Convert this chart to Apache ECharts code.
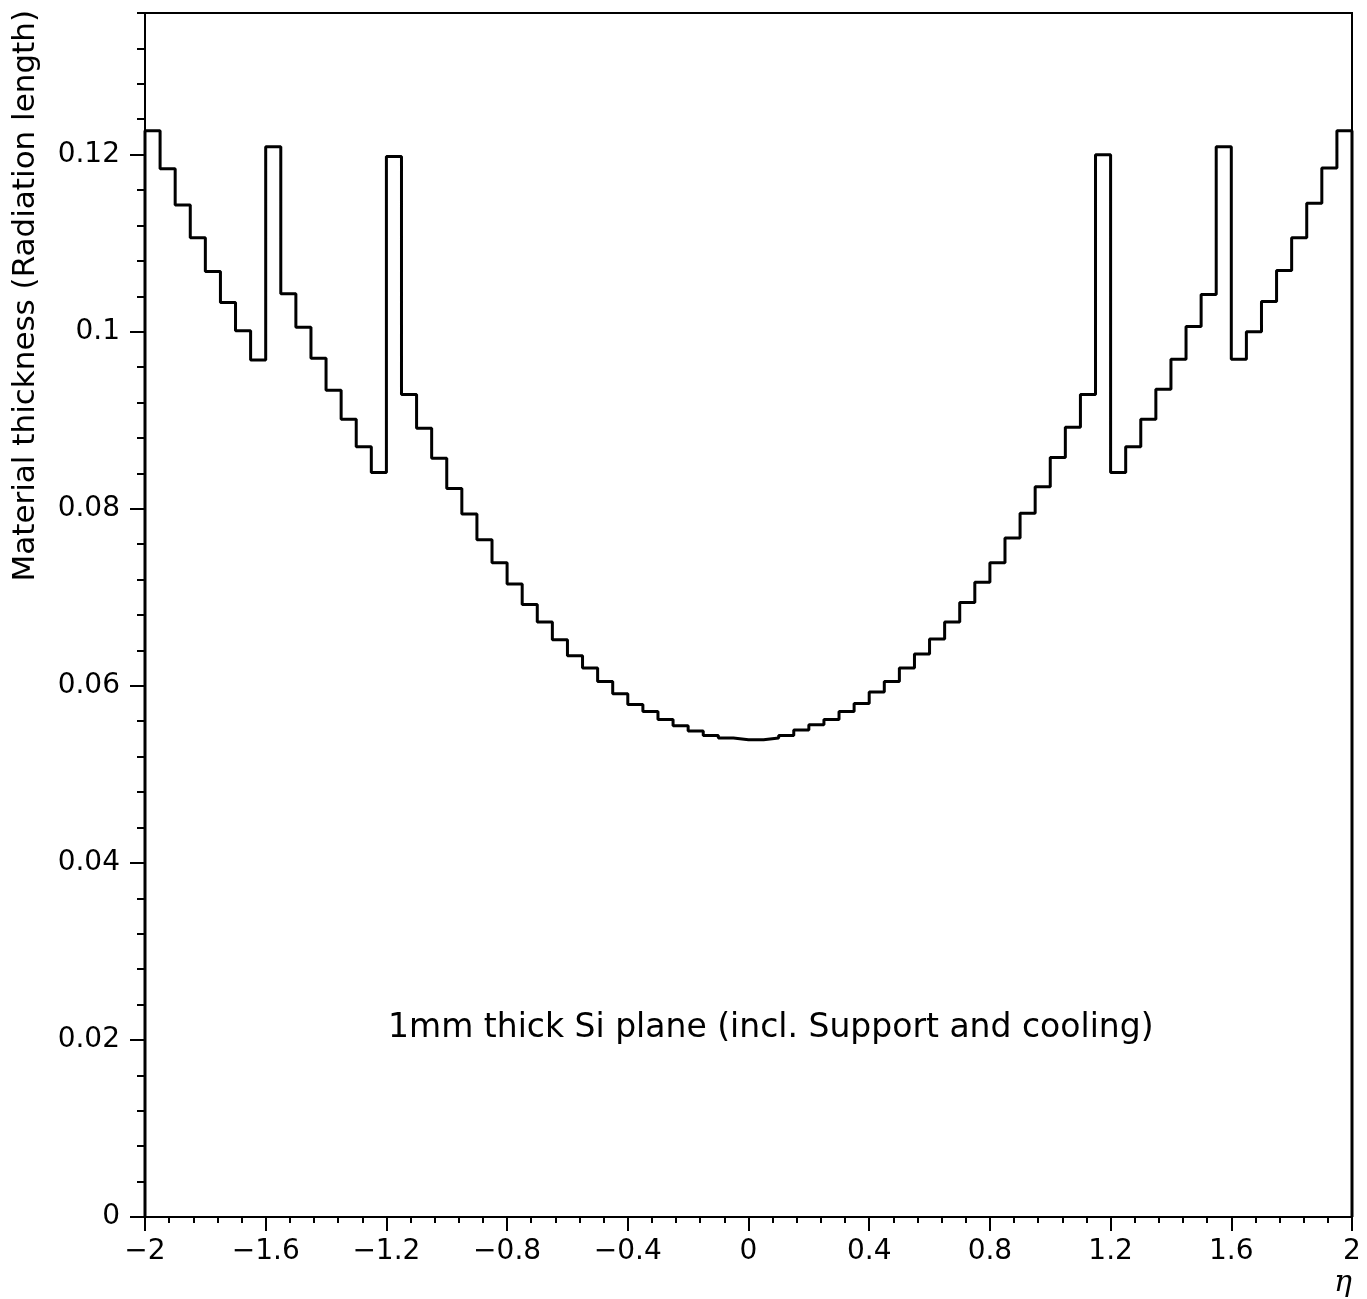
<!DOCTYPE html>
<html>
<head>
<meta charset="utf-8">
<script src="https://cdn.jsdelivr.net/npm/echarts@6/dist/echarts.min.js"></script>
<style>
html,body{margin:0;padding:0;background:#fff;}
#chart{width:1367px;height:1299px;}
</style>
</head>
<body>
<div id="chart"></div>
<script>
// Bin edges in eta (81 edges -> 80 bins)
const etaEdges = [-2,-1.95,-1.9,-1.85,-1.8,-1.75,-1.7,-1.65,-1.6,-1.55,-1.5,-1.45,-1.4,-1.35,-1.3,-1.25,-1.2,-1.15,-1.1,-1.05,
  -1,-0.95,-0.9,-0.85,-0.8,-0.75,-0.7,-0.65,-0.6,-0.55,-0.5,-0.45,-0.4,-0.35,-0.3,-0.25,-0.2,-0.15,-0.1,-0.05,
  0,0.05,0.1,0.15,0.2,0.25,0.3,0.35,0.4,0.45,0.5,0.55,0.6,0.65,0.7,0.75,0.8,0.85,0.9,0.95,
  1,1.05,1.1,1.15,1.2,1.25,1.3,1.35,1.4,1.45,1.5,1.55,1.6,1.65,1.7,1.75,1.8,1.85,1.9,1.95,2];

// Material thickness (radiation lengths) per bin
const thickness = [
  0.1227,0.1184,0.1143,0.1106,0.1068,0.1033,0.1001,0.0968,0.1209,0.1043,
  0.1005,0.0970,0.0934,0.0901,0.0870,0.0841,0.1198,0.0929,0.0891,0.0857,
  0.0823,0.0794,0.0765,0.0739,0.0715,0.0692,0.0672,0.0652,0.0634,0.0620,
  0.0605,0.0591,0.0579,0.0571,0.0562,0.0555,0.0549,0.0544,0.0541,0.0539,
  0.0539,0.0541,0.0544,0.0550,0.0556,0.0562,0.0571,0.0580,0.0593,0.0605,
  0.0620,0.0636,0.0653,0.0672,0.0694,0.0717,0.0739,0.0767,0.0795,0.0825,
  0.0858,0.0892,0.0929,0.1200,0.0841,0.0870,0.0901,0.0935,0.0969,0.1006,
  0.1042,0.1209,0.0969,0.1000,0.1034,0.1069,0.1106,0.1145,0.1185,0.1227
];

// Tick values
const yMajorTicks = [0,0.02,0.04,0.06,0.08,0.1,0.12];
const yMinorTicks = [0,0.004,0.008,0.012,0.016,0.02,0.024,0.028,0.032,0.036,0.04,0.044,0.048,0.052,0.056,0.06,
  0.064,0.068,0.072,0.076,0.08,0.084,0.088,0.092,0.096,0.1,0.104,0.108,0.112,0.116,0.12,0.124,0.128,0.132,0.136];
const xMajorTicks = [-2,-1.6,-1.2,-0.8,-0.4,0,0.4,0.8,1.2,1.6,2];

const yTitle = 'Material thickness (Radiation length)';
const xTitle = 'η';
const note = '1mm thick Si plane (incl. Support and cooling)';

// Build histogram outline points from bins
const pts = [[etaEdges[0], 0]];
for (let i = 0; i < thickness.length; i++) pts.push([etaEdges[i], thickness[i]]);
pts.push([etaEdges[etaEdges.length - 1], thickness[thickness.length - 1]]);
pts.push([etaEdges[etaEdges.length - 1], 0]);

const FONT = 'DejaVu Sans';
const black = '#000';

const chart = echarts.init(document.getElementById('chart'), null, {renderer: 'canvas'});
chart.setOption({
  animation: false,
  backgroundColor: '#fff',
  grid: {left: 145, right: 15, top: 13, bottom: 82, show: true, borderColor: black, borderWidth: 2, backgroundColor: 'transparent'},
  xAxis: {
    type: 'value', min: -2, max: 2, interval: 0.4,
    axisLine: {show: true, onZero: false, lineStyle: {color: black, width: 2}},
    axisTick: {show: true, inside: false, length: 14, customValues: xMajorTicks, lineStyle: {color: black, width: 2}},
    minorTick: {show: true, splitNumber: 5, length: 6, lineStyle: {color: black, width: 2}},
    axisLabel: {
      customValues: xMajorTicks,
      margin: 21, color: black, fontFamily: FONT, fontSize: 28,
      formatter: v => String(Math.round(v * 10) / 10).replace('-', '\u2212')
    },
    splitLine: {show: false}, minorSplitLine: {show: false}
  },
  yAxis: [
    {
      type: 'value', min: 0, max: 0.136, position: 'left',
      axisLine: {show: true, onZero: false, lineStyle: {color: black, width: 2}},
      axisTick: {show: true, inside: false, length: 15, customValues: yMajorTicks, lineStyle: {color: black, width: 2}},
      axisLabel: {customValues: yMajorTicks, margin: 25, color: black, fontFamily: FONT, fontSize: 28,
        formatter: v => String(v)},
      splitLine: {show: false}
    },
    {
      type: 'value', min: 0, max: 0.136, position: 'left', offset: 0,
      axisLine: {show: false, onZero: false},
      axisTick: {show: true, inside: false, length: 8, customValues: yMinorTicks, lineStyle: {color: black, width: 2}},
      axisLabel: {show: false},
      splitLine: {show: false}
    }
  ],
  series: [{
    type: 'line', step: 'end', yAxisIndex: 0, symbol: 'none', clip: false,
    lineStyle: {color: black, width: 3},
    data: pts
  }],
  graphic: [
    {type: 'text', x: 26, y: 10, rotation: Math.PI / 2,
      style: {text: yTitle, font: '31px "DejaVu Sans"', fill: black, align: 'right', verticalAlign: 'middle'}},
    {type: 'text', x: 388, y: 1028,
      style: {text: note, font: '33px "DejaVu Sans"', fill: black, align: 'left', verticalAlign: 'middle'}},
    {type: 'text', x: 1343, y: 1283,
      style: {text: xTitle, font: 'italic 30px "DejaVu Serif"', fill: black, align: 'center', verticalAlign: 'middle'}}
  ]
});
</script>
</body>
</html>
